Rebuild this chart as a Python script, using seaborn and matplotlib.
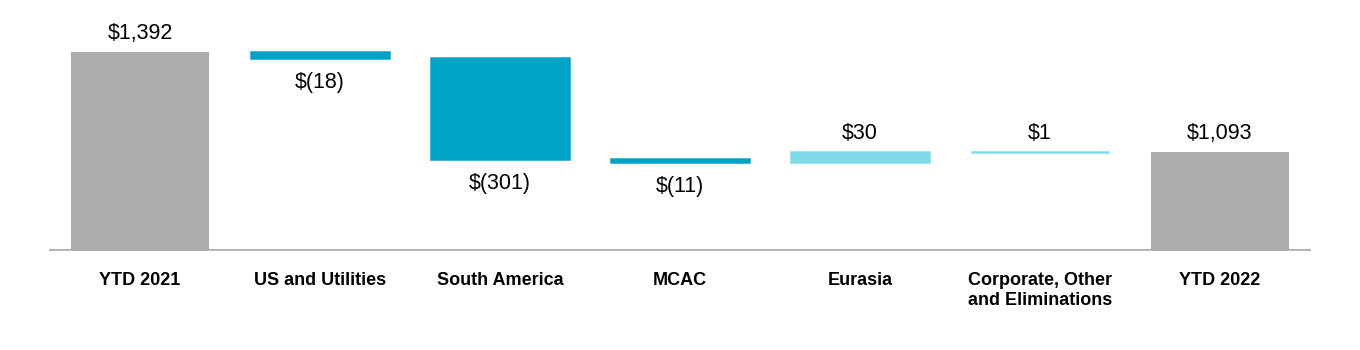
import matplotlib
matplotlib.use("Agg")
import matplotlib.pyplot as plt
import seaborn as sns
import numpy as np
import pandas as pd

categories = ["YTD 2021", "US and Utilities", "South America", "MCAC",
              "Eurasia", "Corporate, Other\nand Eliminations", "YTD 2022"]
values = [1392, -18, -301, -11, 30, 1, 1093]
kinds = ["total", "change", "change", "change", "change", "change", "total"]
labels = ["$1,392", "$(18)", "$(301)", "$(11)", "$30", "$1", "$1,093"]

colors = {"total": "#ADADAD", "neg": "#00A3C8", "pos": "#80DAE9"}
axis_floor = 800

# waterfall geometry
bottoms, heights = [], []
running = 0
for v, k in zip(values, kinds):
    if k == "total":
        bottoms.append(axis_floor)
        heights.append(v - axis_floor)
        running = v
    else:
        start = running
        running = running + v
        bottoms.append(min(start, running))
        heights.append(abs(v))

df = pd.DataFrame({"cat": categories, "height": heights})

sns.set_theme(style="white")
plt.rcParams["font.family"] = ["Liberation Sans", "DejaVu Sans"]

fig = plt.figure(figsize=(13.6, 3.5), dpi=100)
ax = fig.add_axes([50 / 1360, 100 / 350, 1260 / 1360, 250 / 350])

sns.barplot(data=df, x="cat", y="height", ax=ax, color="#ADADAD",
            width=0.767, saturation=1, bottom=bottoms)

for i, p in enumerate(ax.patches):
    k = kinds[i]
    if k == "total":
        c = colors["total"]
        p.set_facecolor(c); p.set_edgecolor(c); p.set_linewidth(0)
    else:
        c = colors["neg"] if values[i] < 0 else colors["pos"]
        p.set_facecolor(c); p.set_edgecolor(c); p.set_linewidth(1.8)

ax.set_xlim(-0.5, 6.5)
ax.set_ylim(axis_floor, 1548)
ax.set_xlabel("")
ax.set_ylabel("")
ax.set_yticks([])
ax.tick_params(axis="x", length=0, pad=16, labelsize=13)
for t in ax.get_xticklabels():
    t.set_fontweight("bold")
    t.set_color("#000000")
    t.set_linespacing(1.2)

for s in ["top", "left", "right"]:
    ax.spines[s].set_visible(False)
ax.spines["bottom"].set_color("#A6A6A6")
ax.spines["bottom"].set_linewidth(1.2)

for i, (v, k) in enumerate(zip(values, kinds)):
    b, h = bottoms[i], heights[i]
    if v >= 0:
        ax.annotate(labels[i], (i, b + h), xytext=(0, 6), textcoords="offset points",
                    ha="center", va="bottom", fontsize=15.5, color="#000000")
    else:
        ax.annotate(labels[i], (i, b), xytext=(0, -10), textcoords="offset points",
                    ha="center", va="top", fontsize=15.5, color="#000000")

fig.savefig("out.png", dpi=100)
